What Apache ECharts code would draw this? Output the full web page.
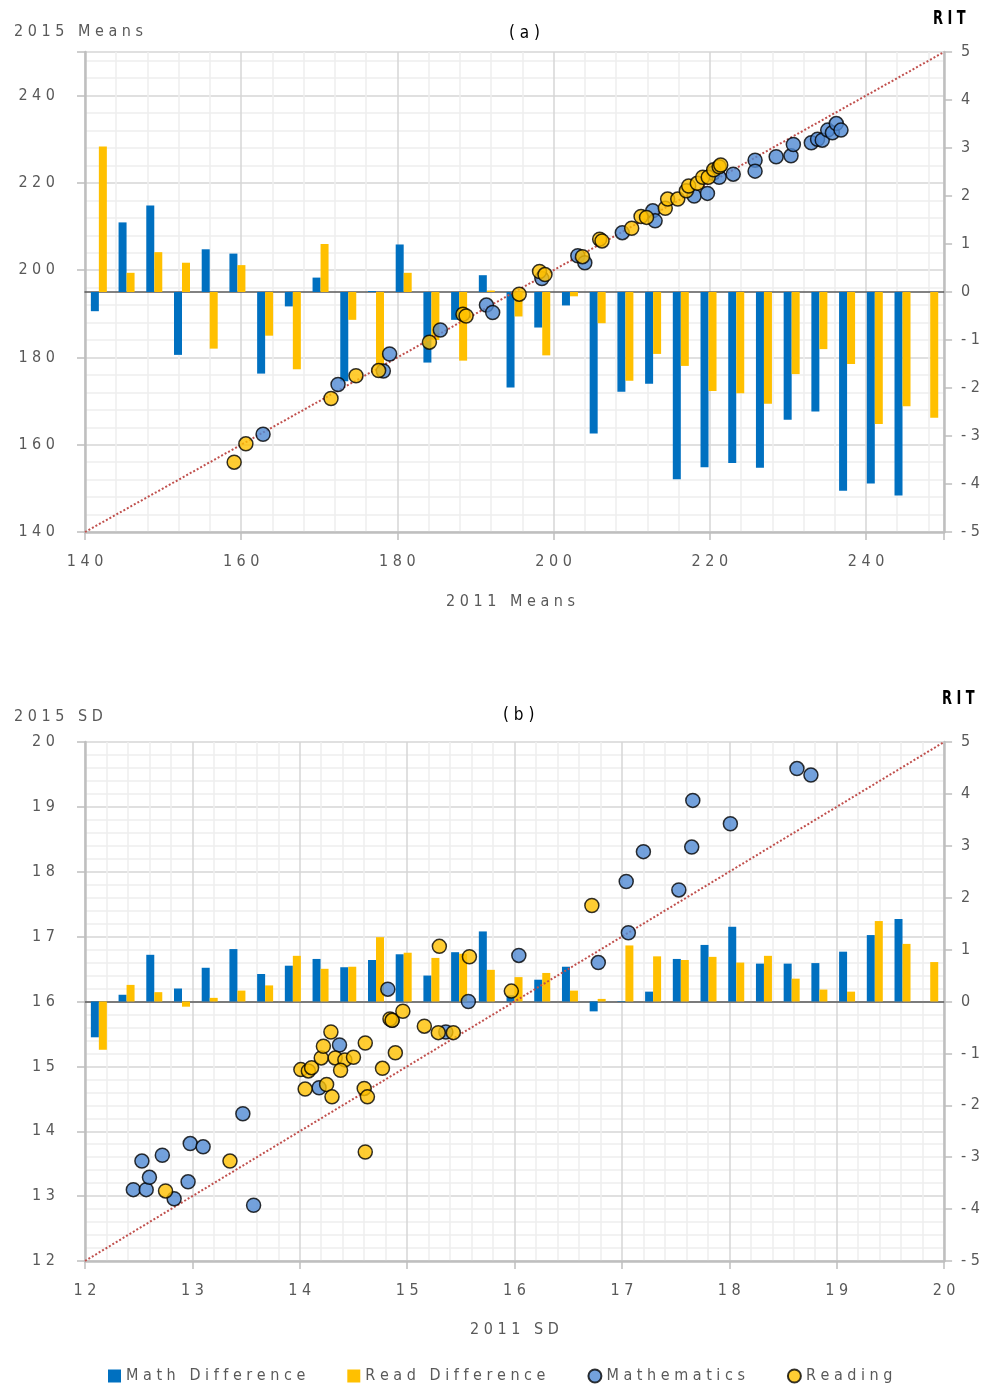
<!DOCTYPE html>
<html>
<head>
<meta charset="utf-8">
<script src="https://cdn.jsdelivr.net/npm/echarts@6/dist/echarts.min.js"></script>
<style>
html,body{margin:0;padding:0;background:#fff;}
#chart{width:983px;height:1385px;}
</style>
</head>
<body>
<div id="chart"></div>
<script>
// ---------- DATA ----------
const categories = ['1','2','3','4','5','6','7','8','9','10','11','12','13','14','15','16','17','18','19','20','21','22','23','24','25','26','27','28','29','30','31'];

// Panel (a): RIT differences (right axis)
const mathDiffMeans = [-0.40, 1.45, 1.80, -1.31, 0.89, 0.80, -1.70, -0.30, 0.30, -1.86, 0.02, 0.99, -1.47, -0.58, 0.35, -1.99, -0.74, -0.28, -2.95, -2.08, -1.91, -3.90, -3.65, -3.56, -3.66, -2.66, -2.49, -4.14, -3.99, -4.24, null];
const readDiffMeans = [3.03, 0.40, 0.83, 0.61, -1.18, 0.56, -0.91, -1.61, 1.00, -0.58, -1.55, 0.40, -1.00, -1.43, 0.03, -0.51, -1.32, -0.09, -0.65, -1.85, -1.29, -1.54, -2.06, -2.11, -2.33, -1.71, -1.19, -1.50, -2.75, -2.38, -2.62];

// Panel (a): 2011 mean vs 2015 mean
const mathMeans = [[162.8,162.4],[172.4,173.8],[178.2,176.9],[179.0,180.8],[185.5,186.3],[191.4,192.0],[192.2,190.3],[198.5,198.1],[203.1,203.3],[204.0,201.7],[208.8,208.6],[212.7,213.6],[213.0,211.3],[218.0,217.0],[219.7,217.6],[220.4,222.2],[221.2,221.3],[223.0,222.0],[225.8,225.2],[225.8,222.7],[228.5,226.0],[230.4,226.2],[230.7,228.8],[233.0,229.2],[233.8,230.0],[234.4,229.8],[235.1,232.1],[235.7,231.5],[236.2,233.6],[236.8,232.1]];
const readMeans = [[159.1,156.0],[160.6,160.2],[171.5,170.6],[174.7,175.8],[177.6,177.0],[184.1,183.5],[188.4,189.9],[188.8,189.5],[195.6,194.5],[198.2,199.7],[198.9,199.0],[203.7,203.1],[205.9,207.1],[206.2,206.7],[210.0,209.6],[211.2,212.3],[211.9,212.1],[214.3,214.2],[214.6,216.3],[215.9,216.3],[217.0,218.2],[217.3,219.3],[218.4,219.9],[219.1,221.3],[219.8,221.3],[220.5,223.0],[221.2,223.7],[221.4,224.1]];

// Panel (b): RIT differences (right axis)
const mathDiffSD = [-0.69, 0.13, 0.90, 0.25, 0.65, 1.01, 0.53, 0.69, 0.82, 0.66, 0.80, 0.91, 0.50, 0.95, 1.35, 0.12, 0.42, 0.67, -0.19, 0.01, 0.19, 0.82, 1.09, 1.44, 0.73, 0.73, 0.74, 0.96, 1.28, 1.59, null];
const readDiffSD = [-0.93, 0.32, 0.18, -0.10, 0.07, 0.21, 0.31, 0.88, 0.63, 0.67, 1.24, 0.94, 0.84, 0.92, 0.61, 0.47, 0.55, 0.21, 0.05, 1.08, 0.87, 0.80, 0.86, 0.75, 0.88, 0.44, 0.23, 0.19, 1.55, 1.11, 0.76];

// Panel (b): 2011 SD vs 2015 SD
const mathSD = [[12.45,13.10],[12.57,13.10],[12.53,13.54],[12.60,13.29],[12.72,13.63],[12.83,12.96],[12.98,13.81],[13.10,13.76],[12.96,13.22],[13.47,14.27],[13.57,12.86],[14.18,14.67],[14.37,15.33],[14.86,15.71],[15.36,15.53],[15.57,16.00],[14.82,16.19],[16.04,16.71],[16.78,16.60],[17.04,17.85],[17.06,17.06],[17.20,18.31],[17.53,17.72],[17.65,18.38],[17.66,19.10],[18.01,18.74],[18.63,19.59],[18.76,19.49]];
const readSD = [[12.75,13.08],[13.35,13.54],[14.01,14.95],[14.08,14.93],[14.11,14.98],[14.05,14.65],[14.25,14.72],[14.30,14.53],[14.20,15.13],[14.22,15.31],[14.29,15.53],[14.33,15.13],[14.42,15.10],[14.50,15.14],[14.38,14.94],[14.61,15.36],[14.60,14.66],[14.63,14.53],[14.61,13.68],[14.77,14.97],[14.89,15.21],[14.84,15.73],[14.86,15.71],[14.96,15.85],[15.16,15.62],[15.29,15.52],[15.43,15.52],[15.97,16.16],[16.72,17.48],[15.30,16.85],[15.58,16.69]];

// Reference diagonals (y = x)
const diagMeans = [[140,140],[250,250]];
const diagSD = [[12,12],[20,20]];

// ---------- STYLE ----------
const FONT = '"DejaVu Sans Condensed","DejaVu Sans",sans-serif';
const sp = s => String(s).split('').join(' ');
const GRAY = '#595959';
const AXIS_GRAY = '#bfbfbf';
const BLUE_BAR = '#0070c0', YELLOW = '#ffc000', BLUE_PT = '#5089d3', RED = '#c0504d';

function valueAxis(opts) {
  return Object.assign({
    type: 'value',
    axisLine: {show: true, onZero: false, lineStyle: {color: AXIS_GRAY, width: 2.5}},
    axisTick: {show: true, length: 8, lineStyle: {color: AXIS_GRAY, width: 1.5}},
    axisLabel: {color: GRAY, fontFamily: FONT, fontSize: 16},
    splitLine: {show: true, lineStyle: {color: '#d6d6d6', width: 1.5}},
    minorTick: {show: false, splitNumber: 5},
    minorSplitLine: {show: true, lineStyle: {color: '#eeeeee', width: 1.5}}
  }, opts);
}
function rightAxis(gi) {
  return {
    type: 'value', gridIndex: gi, position: 'right', min: -5, max: 5, interval: 1,
    axisLine: {show: true, lineStyle: {color: AXIS_GRAY, width: 2.5}},
    axisTick: {show: true, length: 8, lineStyle: {color: AXIS_GRAY, width: 1.5}},
    axisLabel: {color: GRAY, fontFamily: FONT, fontSize: 16, margin: 17, formatter: v => sp(v)},
    splitLine: {show: false}
  };
}
function catAxis(gi) {
  return {
    type: 'category', gridIndex: gi, position: 'top', data: categories, boundaryGap: true,
    axisLine: {show: true, lineStyle: {color: GRAY, width: 1.5}},
    axisTick: {show: false}, axisLabel: {show: false}, splitLine: {show: false}
  };
}
const titleStyle = {color: GRAY, fontFamily: FONT, fontSize: 16, fontWeight: 'normal'};
const blackStyle = {color: '#000', fontFamily: FONT, fontSize: 17, fontWeight: 'normal'};

const option = {
  backgroundColor: '#fff',
  animation: false,
  title: [
    {text: sp('2015 Means'), left: 9, top: 19, textStyle: titleStyle},
    {text: sp('(a)'), left: 504, top: 20, textStyle: blackStyle},
    {text: sp('2011 Means'), left: 441, top: 589, textStyle: titleStyle},
    {text: sp('2015 SD'), left: 9, top: 704, textStyle: titleStyle},
    {text: sp('(b)'), left: 498, top: 702, textStyle: blackStyle},
    {text: sp('2011 SD'), left: 465, top: 1317, textStyle: titleStyle}
  ],
  graphic: [
    {type: 'text', x: 933, y: 9, scaleX: 0.72, style: {text: sp('RIT'), font: 'bold 20px ' + FONT, fill: '#000'}},
    {type: 'text', x: 942, y: 689, scaleX: 0.72, style: {text: sp('RIT'), font: 'bold 20px ' + FONT, fill: '#000'}}
  ],
  legend: {
    left: 103, top: 1363, itemWidth: 13, itemHeight: 13, itemGap: 42,
    textStyle: {color: GRAY, fontFamily: FONT, fontSize: 16},
    formatter: n => sp(n),
    data: [
      {name: 'Math Difference', icon: 'rect'},
      {name: 'Read Difference', icon: 'rect'},
      {name: 'Mathematics', icon: 'circle'},
      {name: 'Reading', icon: 'circle'}
    ]
  },
  grid: [
    {left: 85, top: 52, width: 860, height: 480},
    {left: 85, top: 742, width: 860, height: 519}
  ],
  xAxis: [
    valueAxis({gridIndex: 0, position: 'bottom', min: 140, max: 250, interval: 20,
      axisLabel: {color: GRAY, fontFamily: FONT, fontSize: 16, margin: 22, formatter: v => (v % 20 === 0 ? sp(v) : '')}}),
    catAxis(0),
    valueAxis({gridIndex: 1, position: 'bottom', min: 12, max: 20, interval: 1,
      axisLabel: {color: GRAY, fontFamily: FONT, fontSize: 16, margin: 22, formatter: v => sp(v)}}),
    catAxis(1)
  ],
  yAxis: [
    valueAxis({gridIndex: 0, position: 'left', min: 140, max: 250, interval: 20,
      axisLabel: {color: GRAY, fontFamily: FONT, fontSize: 16, margin: 30, formatter: v => (v % 20 === 0 ? sp(v) : '')}}),
    rightAxis(0),
    valueAxis({gridIndex: 1, position: 'left', min: 12, max: 20, interval: 1,
      axisLabel: {color: GRAY, fontFamily: FONT, fontSize: 16, margin: 30, formatter: v => sp(v)}}),
    rightAxis(1)
  ],
  series: [
    {name: 'Math Difference', type: 'bar', xAxisIndex: 1, yAxisIndex: 1, data: mathDiffMeans, barWidth: 8, barGap: '0%', itemStyle: {color: BLUE_BAR}, z: 2},
    {name: 'Read Difference', type: 'bar', xAxisIndex: 1, yAxisIndex: 1, data: readDiffMeans, barWidth: 8, barGap: '0%', itemStyle: {color: YELLOW}, z: 2},
    {name: 'Math Difference', type: 'bar', xAxisIndex: 3, yAxisIndex: 3, data: mathDiffSD, barWidth: 8, barGap: '0%', itemStyle: {color: BLUE_BAR}, z: 2},
    {name: 'Read Difference', type: 'bar', xAxisIndex: 3, yAxisIndex: 3, data: readDiffSD, barWidth: 8, barGap: '0%', itemStyle: {color: YELLOW}, z: 2},
    {type: 'line', xAxisIndex: 0, yAxisIndex: 0, data: diagMeans, symbol: 'none', lineStyle: {color: RED, width: 2, type: [2, 2]}, z: 3, silent: true},
    {type: 'line', xAxisIndex: 2, yAxisIndex: 2, data: diagSD, symbol: 'none', lineStyle: {color: RED, width: 2, type: [2, 2]}, z: 3, silent: true},
    {name: 'Mathematics', type: 'scatter', xAxisIndex: 0, yAxisIndex: 0, data: mathMeans, symbolSize: 14, itemStyle: {color: BLUE_PT, borderColor: '#000', borderWidth: 1.5}, z: 4},
    {name: 'Mathematics', type: 'scatter', xAxisIndex: 2, yAxisIndex: 2, data: mathSD, symbolSize: 14, itemStyle: {color: BLUE_PT, borderColor: '#000', borderWidth: 1.5}, z: 4},
    {name: 'Reading', type: 'scatter', xAxisIndex: 0, yAxisIndex: 0, data: readMeans, symbolSize: 14, itemStyle: {color: YELLOW, borderColor: '#000', borderWidth: 1.5}, z: 5},
    {name: 'Reading', type: 'scatter', xAxisIndex: 2, yAxisIndex: 2, data: readSD, symbolSize: 14, itemStyle: {color: YELLOW, borderColor: '#000', borderWidth: 1.5}, z: 5}
  ]
};

const chart = echarts.init(document.getElementById('chart'), null, {renderer: 'canvas'});
chart.setOption(option);
</script>
</body>
</html>
